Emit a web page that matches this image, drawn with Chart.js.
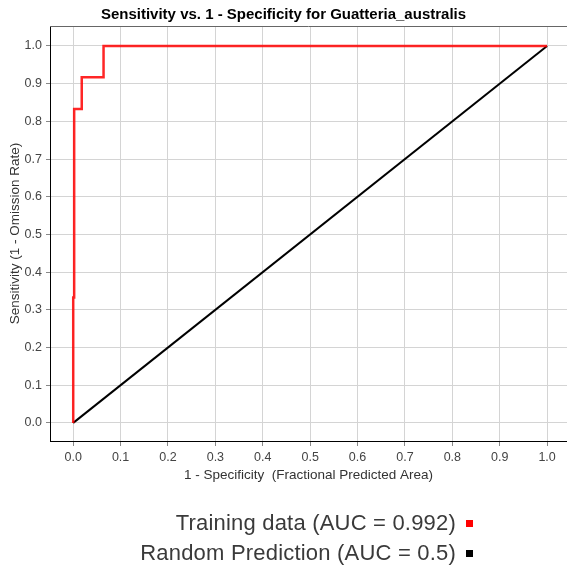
<!DOCTYPE html>
<html>
<head>
<meta charset="utf-8">
<script src="https://cdn.jsdelivr.net/npm/chart.js@4"></script>
<style>
  body { margin: 0; background: #fff; }
  #wrap { position: relative; width: 567px; height: 567px; }
  #legend { position: absolute; right: 94px; top: 508px; font-family: "Liberation Sans", Arial, sans-serif; font-size: 22px; letter-spacing: 0.2px; color: #3a3a3a; }
  .row { display: flex; align-items: center; justify-content: flex-end; height: 30px; }
  .box { width: 7px; height: 7px; margin-left: 10px; }
</style>
</head>
<body>
<div id="wrap">
  <canvas id="roc" width="567" height="567"></canvas>
  <div id="legend"></div>
</div>
<script>
  // ROC curve
  const trainX = [0, 0, 0.002, 0.002, 0.018, 0.018, 0.064, 0.064, 1.0];
  const trainY = [0, 0.333, 0.333, 0.833, 0.833, 0.917, 0.917, 1.0, 1.0];
  const randomX = [0, 1];
  const randomY = [0, 1];
  const tickValues = [0, 0.1, 0.2, 0.3, 0.4, 0.5, 0.6, 0.7, 0.8, 0.9, 1.0];
  const seriesLabels = ["Training data (AUC = 0.992)", "Random Prediction (AUC = 0.5)"];
  const seriesColors = ["#ff0000", "#000000"];

  const font = "'Liberation Sans', Arial, sans-serif";

  function toPoints(xs, ys) {
    return xs.map((x, i) => ({ x: x, y: ys[i] }));
  }

  // gray line along the top of the plot area
  const topBorder = {
    id: "topBorder",
    afterDraw(chart) {
      const { ctx, chartArea } = chart;
      ctx.save();
      ctx.strokeStyle = "#666";
      ctx.lineWidth = 1;
      ctx.beginPath();
      ctx.moveTo(chartArea.left, chartArea.top + 0.5);
      ctx.lineTo(chartArea.right, chartArea.top + 0.5);
      ctx.stroke();
      ctx.restore();
    }
  };

  const datasets = [
    {
      label: seriesLabels[0],
      data: toPoints(trainX, trainY),
      borderColor: "rgba(255, 0, 0, 0.85)",
      borderWidth: 2.5,
      pointRadius: 0,
      tension: 0,
      order: 0
    },
    {
      label: seriesLabels[1],
      data: toPoints(randomX, randomY),
      borderColor: seriesColors[1],
      borderWidth: 2,
      pointRadius: 0,
      tension: 0,
      order: 1
    }
  ];

  const axisTicks = (scale) => {
    scale.ticks = tickValues.map(v => ({ value: v }));
  };

  new Chart(document.getElementById("roc"), {
    type: "line",
    data: { datasets: datasets },
    plugins: [topBorder],
    options: {
      responsive: false,
      animation: false,
      layout: { padding: { bottom: 77, right: 0, left: 0 } },
      plugins: {
        legend: { display: false },
        tooltip: { enabled: false },
        title: {
          display: true,
          text: "Sensitivity vs. 1 - Specificity for Guatteria_australis",
          color: "#000",
          font: { family: font, size: 15, weight: "bold" },
          padding: { top: 6, bottom: 2 }
        }
      },
      scales: {
        x: {
          type: "linear",
          min: -0.049,
          max: 1.042,
          afterBuildTicks: axisTicks,
          afterFit: (s) => { s.height = 49; },
          grid: { color: "#d4d4d4", tickColor: "#888", tickLength: 5 },
          border: { color: "#000", width: 1 },
          ticks: {
            color: "#444",
            font: { family: font, size: 12.5 },
            padding: 4,
            maxRotation: 0,
            callback: (v) => v.toFixed(1)
          },
          title: {
            display: true,
            text: "1 - Specificity  (Fractional Predicted Area)",
            color: "#333",
            font: { family: font, size: 13.5 },
            padding: { top: 0, bottom: 7 }
          }
        },
        y: {
          type: "linear",
          min: -0.048,
          max: 1.053,
          afterBuildTicks: axisTicks,
          afterFit: (s) => { s.width = 50; },
          grid: { color: "#d4d4d4", tickColor: "#888", tickLength: 4 },
          border: { color: "#000", width: 1 },
          ticks: {
            color: "#444",
            font: { family: font, size: 12.5 },
            padding: 4,
            callback: (v) => v.toFixed(1)
          },
          title: {
            display: true,
            text: "Sensitivity (1 - Omission Rate)",
            color: "#333",
            font: { family: font, size: 13.5 },
            padding: { top: 7, bottom: 0 }
          }
        }
      }
    }
  });

  // legend below the chart, box to the right of the text
  const legend = document.getElementById("legend");
  seriesLabels.forEach((label, i) => {
    const row = document.createElement("div");
    row.className = "row";
    const text = document.createElement("span");
    text.textContent = label;
    const box = document.createElement("span");
    box.className = "box";
    box.style.background = seriesColors[i];
    row.appendChild(text);
    row.appendChild(box);
    legend.appendChild(row);
  });
</script>
</body>
</html>
